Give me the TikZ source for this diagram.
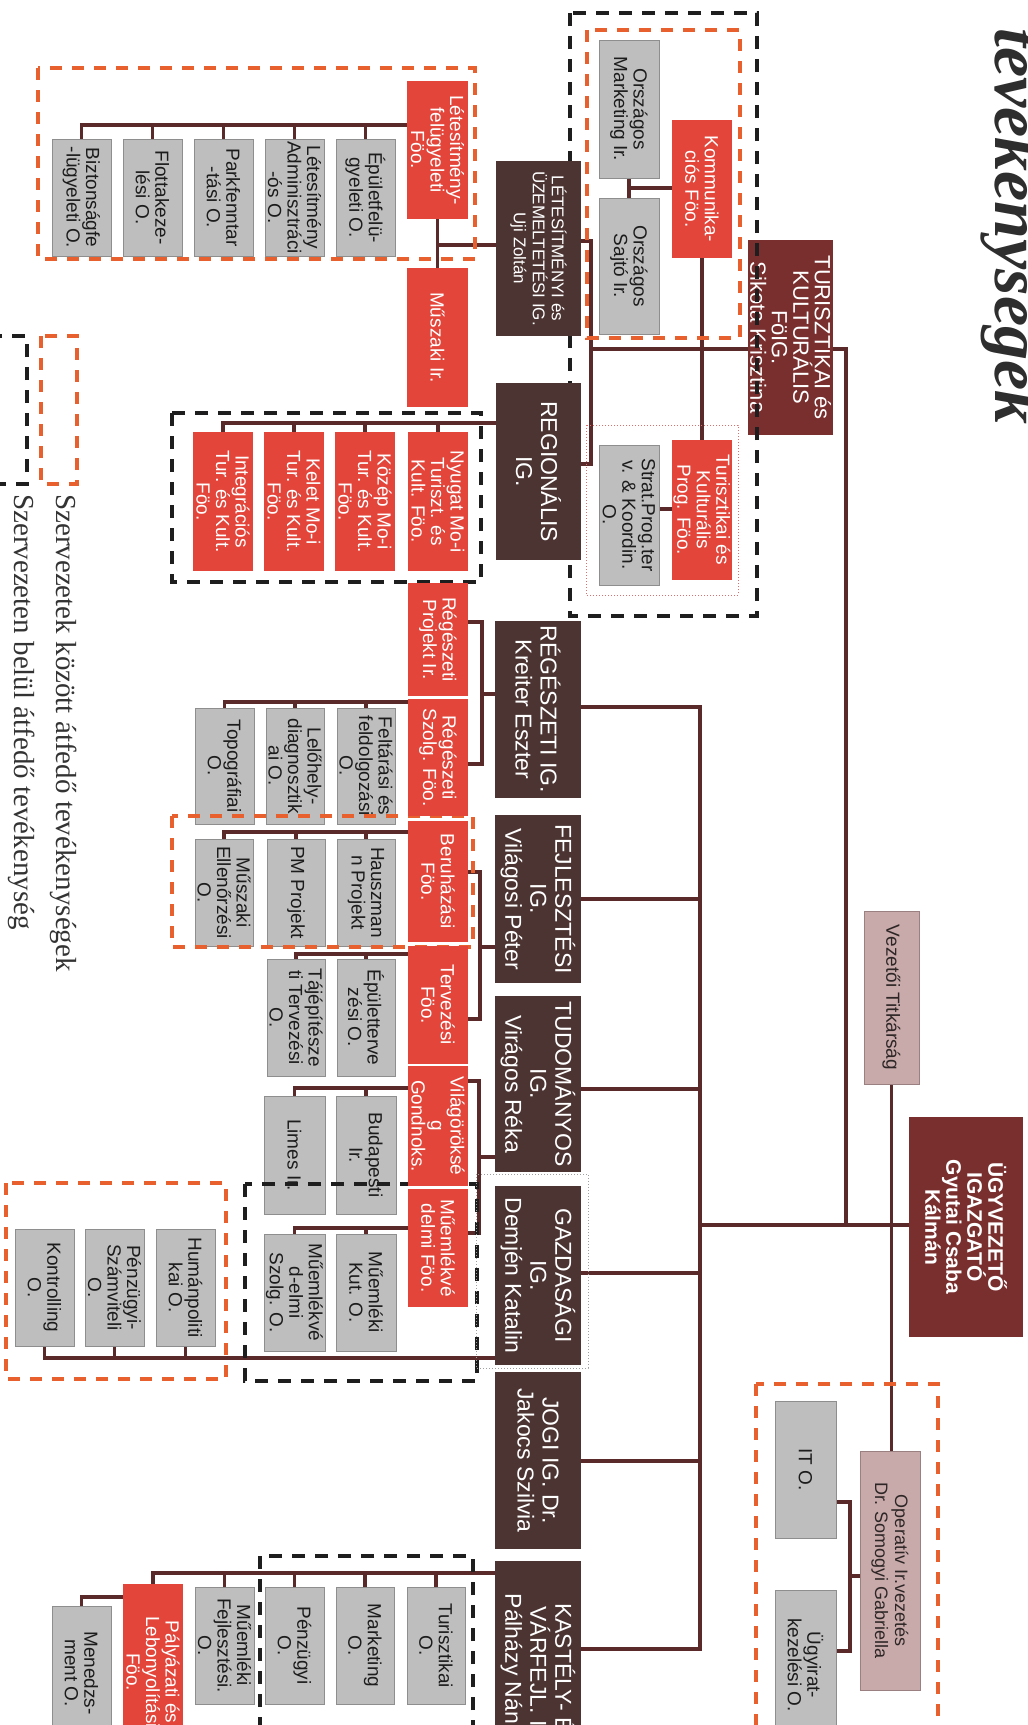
\documentclass[tikz,border=0pt]{standalone}
\usepackage{fontspec}
\setmainfont{Liberation Sans}
\newfontfamily\tfont{Liberation Serif}
\definecolor{redf}{HTML}{E3453B}
\definecolor{darkf}{HTML}{4B3432}
\definecolor{marf}{HTML}{7A2F2F}
\definecolor{grayf}{HTML}{BEBEBE}
\definecolor{grayd}{HTML}{8E8E8E}
\definecolor{grayt}{HTML}{1C1C1C}
\definecolor{pinkf}{HTML}{C8AAAA}
\definecolor{pinkd}{HTML}{9A8080}
\definecolor{pinkt}{HTML}{2E2626}
\definecolor{connc}{HTML}{5A2A2A}
\definecolor{orc}{HTML}{E8602E}
\definecolor{blc}{HTML}{1E1E1E}
\definecolor{titlec}{HTML}{2E2E2E}
\definecolor{legc}{HTML}{333333}
\definecolor{dotr}{HTML}{D87070}
\definecolor{dotg}{HTML}{A0A0A0}
\pgfdeclarelayer{connl}
\pgfdeclarelayer{lowl}
\pgfsetlayers{connl,lowl,main}
\newcommand\obox[7]{%
  \pgfmathsetmacro\oxc{(#3+#5)/2}%
  \pgfmathsetmacro\oyc{(#4+#6)/2}%
  \pgfmathsetmacro\ow{#6-#4}%
  \pgfmathsetmacro\oh{#5-#3}%
  \node[#1,rotate=-90,minimum width=\ow pt,minimum height=\oh pt] (#2) at (\oxc,\oyc) {#7};%
}
\begin{document}
\begin{tikzpicture}[x=1pt,y=-1pt,
  base/.style={inner sep=0pt,outer sep=0pt,align=center},
  gbox/.style={base,fill=grayf,draw=grayd,line width=0.8pt,text=grayt,font=\fontsize{19}{19.5}\selectfont},
  rbox/.style={base,fill=redf,text=white,font=\fontsize{19}{19.5}\selectfont},
  dbox/.style={base,fill=darkf,text=white,font=\fontsize{23}{25}\selectfont},
  mbox/.style={base,fill=marf,text=white,font=\fontsize{22}{21.5}\selectfont},
  pbox/.style={base,fill=pinkf,draw=pinkd,line width=0.8pt,text=pinkt,font=\fontsize{19}{20}\selectfont},
  conn/.style={draw=connc,line width=3.8pt},
  odash/.style={draw=orc,line width=3.5pt,dash pattern=on 12pt off 10pt},
  bdash/.style={draw=blc,line width=4pt,dash pattern=on 13pt off 10pt},
  dotbox/.style={line width=1pt,dotted}]
\useasboundingbox (0,0) rectangle (1028,1725);

% ---------- title and legend ----------
\node[rotate=-90,anchor=base west,inner sep=0pt,text=titlec,
  font=\tfont\bfseries\itshape\fontsize{68}{68}\selectfont] (title) at (995,28) {tevékenységek};
\draw[odash] (41,336) rectangle (77,484);
\draw[bdash] (-20,336) rectangle (27,484);
\node[rotate=-90,anchor=base west,inner sep=0pt,text=legc,
  font=\tfont\fontsize{29}{29}\selectfont] (leg1) at (56,494) {Szervezetek között átfedő tevékenységek};
\node[rotate=-90,anchor=base west,inner sep=0pt,text=legc,
  font=\tfont\fontsize{29}{29}\selectfont] (leg2) at (14,494) {Szervezeten belül átfedő tevékenység};

% ---------- lower layer: gray boxes and TURISZTIKAI ----------
\begin{pgfonlayer}{lowl}
\obox{mbox}{tur}{748}{240}{833}{435}{TURISZTIKAI és\\KULTURÁLIS\\FöIG.\\Sikota Krisztina}
\obox{gbox}{om}{599}{40}{659}{178}{Országos\\Marketing Ir.}
\obox{gbox}{os}{599}{198}{659}{334}{Országos\\Sajtó Ir.}
\obox{gbox}{sp}{599}{445}{659}{585}{Strat.Prog.ter\\v. \& Koordin.\\O.}
\obox{gbox}{g1}{336}{139}{395}{256}{Épületfelü-\\gyeleti O.}
\obox{gbox}{g2}{265}{139}{324}{256}{Létesítmény\\Adminisztráci\\-ós O.}
\obox{gbox}{g3}{194}{139}{253}{256}{Parkfenntar\\-tási O.}
\obox{gbox}{g4}{123}{139}{182}{256}{Flottakeze-\\lési O.}
\obox{gbox}{g5}{52}{139}{111}{256}{Biztonságfe\\-lügyeleti O.}
\obox{gbox}{r1}{337}{708}{395}{824}{Feltárási és\\feldolgozási\\O.}
\obox{gbox}{r2}{266}{708}{324}{824}{Lelőhely-\\diagnosztik\\ai O.}
\obox{gbox}{r3}{195}{708}{254}{824}{Topográfiai\\O.}
\obox{gbox}{b1}{337}{839}{395}{946}{Hauszman\\n Projekt}
\obox{gbox}{b2}{267}{839}{325}{946}{PM Projekt}
\obox{gbox}{b3}{195}{839}{253}{946}{Műszaki\\Ellenőrzési\\O.}
\obox{gbox}{t1}{337}{959}{395}{1076}{Épületterve\\zési O.}
\obox{gbox}{t2}{267}{959}{325}{1076}{Tájépítésze\\ti Tervezési\\O.}
\obox{gbox}{v1}{336}{1096}{396}{1214}{Budapesti\\Ir.}
\obox{gbox}{v2}{264}{1096}{325}{1214}{Limes Ir.}
\obox{gbox}{m1}{336}{1234}{396}{1351}{Műemléki\\Kut. O.}
\obox{gbox}{m2}{264}{1234}{325}{1351}{Műemlékvé\\d-elmi\\Szolg. O.}
\obox{gbox}{h1}{156}{1229}{215}{1346}{Humánpoliti\\kai O.}
\obox{gbox}{h2}{85}{1229}{144}{1346}{Pénzügyi-\\Számviteli\\O.}
\obox{gbox}{h3}{15}{1229}{74}{1346}{Kontrolling\\O.}
\obox{gbox}{k1}{407}{1587}{465}{1704}{Turisztikai\\O.}
\obox{gbox}{k2}{336}{1587}{394}{1704}{Marketing\\O.}
\obox{gbox}{k3}{265}{1587}{324}{1704}{Pénzügyi\\O.}
\obox{gbox}{k4}{195}{1587}{254}{1704}{Műemléki\\Fejlesztési.\\O.}
\obox{gbox}{k5}{52}{1606}{111}{1740}{Menedzs-\\ment O.}
\obox{gbox}{it}{775}{1401}{836}{1538}{IT O.}
\obox{gbox}{ugyi}{775}{1590}{836}{1740}{Ügyirat-\\kezelési O.}
\end{pgfonlayer}

% ---------- dashed and dotted groups ----------
\draw[odash] (38,68) rectangle (475,259);
\draw[odash] (587,30) rectangle (740,338);
\draw[odash] (172,816) rectangle (473,947);
\draw[odash] (6,1183) rectangle (226,1379);
\draw[odash] (756,1384) rectangle (938,1745);
\draw[bdash] (570,13) rectangle (757,616);
\draw[bdash] (172,413) rectangle (481,582);
\draw[bdash] (245,1184) rectangle (477,1381);
\draw[bdash] (260,1556) rectangle (473,1745);
\draw[dotbox,draw=dotr] (586,425) rectangle (738,595);
\draw[dotbox,draw=dotg] (476,1174) rectangle (588,1368);

% ---------- main boxes ----------
\obox{mbox,font=\bfseries\fontsize{21}{21}\selectfont}{ugy}{909}{1117}{1023}{1337}{ÜGYVEZETŐ\\IGAZGATÓ\\Gyutai Csaba\\Kálmán}
\obox{dbox,font=\fontsize{17}{19}\selectfont}{let}{496}{161}{581}{336}{LÉTESÍTMÉNYI és\\ÜZEMELTETÉSI IG.\\Uji Zoltán}
\obox{dbox}{reg}{496}{383}{581}{560}{REGIONÁLIS\\IG.}
\obox{dbox}{rege}{495}{621}{581}{798}{RÉGÉSZETI IG.\\Kreiter Eszter}
\obox{dbox}{fej}{495}{815}{581}{983}{FEJLESZTÉSI\\IG.\\Világosi Péter}
\obox{dbox}{tud}{495}{996}{581}{1172}{TUDOMÁNYOS\\IG.\\Virágos Réka}
\obox{dbox}{gaz}{495}{1186}{581}{1365}{GAZDASÁGI\\IG.\\Demjén Katalin}
\obox{dbox}{jog}{495}{1372}{581}{1549}{JOGI IG. Dr.\\Jakocs Szilvia}
\obox{dbox}{kas}{495}{1561}{581}{1790}{KASTÉLY- ÉS\\VÁRFEJL. IG\\Pálházy Nándor}
\obox{rbox}{letf}{407}{81}{468}{219}{Létesítmény-\\felügyeleti\\Föo.}
\obox{rbox}{musz}{407}{268}{468}{407}{Műszaki Ir.}
\obox{rbox}{kom}{672}{120}{732}{258}{Kommunika-\\ciós Föo.}
\obox{rbox}{tkp}{672}{440}{732}{580}{Turisztikai és\\Kulturális\\Prog. Föo.}
\obox{rbox}{nyu}{408}{432}{468}{571}{Nyugat Mo-i\\Turiszt. és\\Kult. Föo.}
\obox{rbox}{koz}{335}{432}{395}{571}{Közép Mo-i\\Tur. és Kult.\\Föo.}
\obox{rbox}{kel}{264}{432}{324}{571}{Kelet Mo-i\\Tur. és Kult.\\Föo.}
\obox{rbox}{int}{193}{432}{253}{571}{Integrációs\\Tur. és Kult.\\Föo.}
\obox{rbox}{rpi}{408}{583}{468}{696}{Régészeti\\Projekt Ir.}
\obox{rbox}{rsz}{408}{699}{468}{816}{Régészeti\\Szolg. Föo.}
\obox{rbox}{ber}{408}{821}{468}{942}{Beruházási\\Föo.}
\obox{rbox}{ter}{408}{946}{468}{1064}{Tervezési\\Föo.}
\obox{rbox}{vil}{408}{1066}{468}{1186}{Világöröksé\\g\\Gondnoks.}
\obox{rbox}{mvf}{408}{1189}{468}{1307}{Műemlékvé\\delmi Föo.}
\obox{rbox}{pal}{123}{1584}{183}{1760}{Pályázati és\\Lebonyolítási\\Föo.}
\obox{pbox}{vez}{864}{911}{919}{1084}{Vezetői Titkárság}
\obox{pbox,font=\fontsize{18}{20}\selectfont}{ope}{860}{1451}{920}{1690}{Operatív Ir.vezetés\\Dr. Somogyi Gabriella}

% ---------- connectors ----------
\begin{pgfonlayer}{connl}
\coordinate (hub) at (846,1225);
\coordinate (ttop) at (846,349);
\coordinate (ltop) at (591,241);
\coordinate (lbot) at (591,464);
\coordinate (rb1) at (482,622);
\coordinate (rb2) at (482,764);
\coordinate (fb1) at (480,872);
\coordinate (fb2) at (480,1019);
\coordinate (tb1) at (479,1081);
\coordinate (tb2) at (479,1233);
\coordinate (db1) at (700,707);
\coordinate (db2) at (700,1649);
\coordinate (ob1) at (850,1502);
\coordinate (ob2) at (850,1651);
% Letesitmeny
\draw[conn] (letf.south |- 0,125) -| (g5.west);
\foreach \n in {g1,g2,g3,g4} \draw[conn] (\n.west) -- (\n.west |- 0,125);
\draw[conn] (letf.east) -- (musz.west);
\draw[conn] (let.south |- 0,245) -- (letf.east |- 0,245);
% Turisztikai
\draw[conn] (tur.north |- ttop) -- (ttop) -- (hub);
\draw[conn] (tur.south |- ttop) -- (ltop |- ttop);
\draw[conn] (let.north |- ltop) -- (ltop) -- (lbot) -- (reg.north |- lbot);
\draw[conn] (kom.south |- 0,188) -- (om.east |- 0,188);
\draw[conn] (om.east) -- (os.west);
\draw[conn] (kom.east) -- (tkp.west);
\draw[conn] (tkp.south |- 0,509) -- (sp.north |- 0,509);
% Regionalis
\draw[conn] (reg.south |- 0,423) -| (int.west);
\foreach \n in {nyu,koz,kel} \draw[conn] (\n.west) -- (\n.west |- 0,423);
% Regeszeti
\draw[conn] (rpi.north |- rb1) -- (rb1) -- (rb2) -- (rsz.north |- rb2);
\draw[conn] (rege.south |- 0,694) -- (rb1 |- 0,694);
\draw[conn] (rsz.south |- 0,702) -| (r3.west);
\foreach \n in {r1,r2} \draw[conn] (\n.west) -- (\n.west |- 0,702);
% Fejlesztesi
\draw[conn] (ber.north |- fb1) -- (fb1) -- (fb2) -- (ter.north |- fb2);
\draw[conn] (fej.south |- 0,947) -- (fb1 |- 0,947);
\draw[conn] (ber.south |- 0,832) -| (b3.west);
\foreach \n in {b1,b2} \draw[conn] (\n.west) -- (\n.west |- 0,832);
\draw[conn] (ter.south |- 0,954) -| (t2.west);
\draw[conn] (t1.west) -- (t1.west |- 0,954);
% Tudomanyos
\draw[conn] (vil.north |- tb1) -- (tb1) -- (tb2) -- (mvf.north |- tb2);
\draw[conn] (tud.south |- 0,1157) -- (tb1 |- 0,1157);
\draw[conn] (vil.south |- 0,1088) -| (v2.west);
\draw[conn] (v1.west) -- (v1.west |- 0,1088);
\draw[conn] (mvf.south |- 0,1228) -| (m2.west);
\draw[conn] (m1.west) -- (m1.west |- 0,1228);
% Gazdasagi
\draw[conn] (gaz.south |- 0,1358) -| (h3.east);
\foreach \n in {h1,h2} \draw[conn] (\n.east) -- (\n.east |- 0,1358);
% Kastely
\draw[conn] (kas.south |- 0,1573) -| (pal.west);
\foreach \n in {k1,k2,k3,k4} \draw[conn] (\n.west) -- (\n.west |- 0,1573);
\draw[conn] (pal.south |- 0,1597) -| (k5.west);
% directors bus
\draw[conn] (rege.north |- db1) -- (db1) -- (db2) -- (kas.north |- db2);
\foreach \n/\yy in {fej/899,tud/1089,gaz/1273,jog/1461} \draw[conn] (\n.north |- 0,\yy) -- (db1 |- 0,\yy);
\draw[conn] (ugy.south |- hub) -- (db1 |- hub);
% right side
\draw[conn] (vez.east) -- (vez.east |- ope.west);
\draw[conn] (it.north |- ob1) -- (ob1) -- (ob2) -- (ugyi.north |- ob2);
\draw[conn] (ope.south |- 0,1576) -- (ob1 |- 0,1576);
\end{pgfonlayer}
\end{tikzpicture}
\end{document}
